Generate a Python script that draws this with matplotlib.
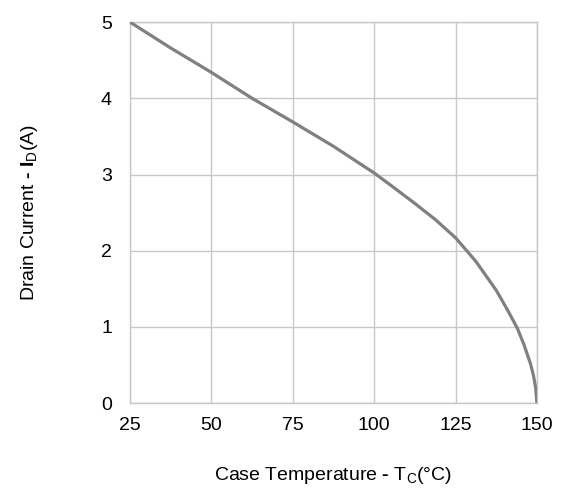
import matplotlib.pyplot as plt

plt.rcParams["font.family"] = ["Liberation Sans", "DejaVu Sans"]
plt.rcParams["mathtext.fontset"] = "custom"
plt.rcParams["mathtext.rm"] = "Liberation Sans"
plt.rcParams["mathtext.bf"] = "Liberation Sans:bold"

# derating curve
temp_c = [25, 37.5, 50, 62.5, 75, 87.5, 100, 106, 112.5, 118.75, 125,
          131.25, 137.5, 141, 144, 146, 148, 149, 149.6, 150]
drain_a = [5.0, 4.66, 4.34, 4.0, 3.69, 3.37, 3.02, 2.83, 2.62, 2.41, 2.17,
           1.86, 1.48, 1.22, 0.98, 0.77, 0.52, 0.35, 0.2, 0.0]

x_ticks = [25, 50, 75, 100, 125, 150]
y_ticks = [0, 1, 2, 3, 4, 5]

fig = plt.figure(figsize=(5.64, 4.91), dpi=100)
ax = fig.add_axes([0.2305, 0.179, 0.7215, 0.776])

ax.plot(temp_c, drain_a, color="#808080", linewidth=2.3, solid_capstyle="round",
        solid_joinstyle="round", zorder=3)

ax.set_xlim(25, 150)
ax.set_ylim(0, 5)
ax.set_xticks(x_ticks)
ax.set_yticks(y_ticks)
ax.grid(True, color="#c8c8c8", linewidth=1.0)
for side in ax.spines.values():
    side.set_color("#c8c8c8")
    side.set_linewidth(1.0)
ax.tick_params(length=0, labelsize=14, colors="black")
ax.tick_params(axis="x", pad=10)
ax.tick_params(axis="y", pad=13)

ax.set_xlabel("Case Temperature $\\mathbf{\u2010}$ T$_{\\mathrm{C}}$(°C)", fontsize=14, labelpad=22)
ax.set_ylabel("Drain Current $\\mathbf{\u2010}$ $\\mathbf{I}_{\\mathrm{D}}$(A)", fontsize=14, labelpad=44)

fig.savefig("out.png", dpi=100)
